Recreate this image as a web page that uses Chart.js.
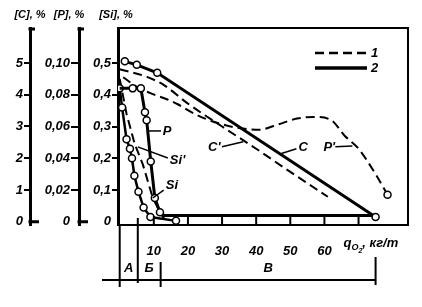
<!DOCTYPE html>
<html>
<head>
<meta charset="utf-8">
<script src="https://cdn.jsdelivr.net/npm/chart.js@4.4.1/dist/chart.umd.min.js"></script>
<style>
  html, body { margin: 0; padding: 0; background: #fff; }
  #wrap { width: 422px; height: 307px; }
</style>
</head>
<body>
<div id="wrap"><canvas id="chart" width="422" height="307"></canvas></div>
<script>
// --------------------
// Data
// --------------------
// x = oxygen consumption q_O2, kg/t

// [C], %  curve 2 (solid) and curve 1 (dashed)
const cQ = [1.5, 5, 11, 75];
const cVal = [5.05, 4.94, 4.69, 0.15];
const cDashQ = [0, 8, 13, 20, 30, 40, 50, 61];
const cDashVal = [4.8, 4.56, 4.3, 3.72, 3.0, 2.3, 1.57, 0.79];

// [P], %
const pQ = [0, 3.8, 6.2, 7.4, 7.9, 9.1, 10.3, 11.8, 13, 75];
const pVal = [0.084, 0.084, 0.084, 0.069, 0.064, 0.038, 0.015, 0.006, 0.004, 0.004];
const pDashQ = [1, 5, 9, 14, 17, 21, 25, 29, 35, 41, 46, 52, 57, 62, 66, 70, 75, 78.5];
const pDashVal = [0.091, 0.085, 0.081, 0.077, 0.074, 0.069, 0.065, 0.062, 0.059, 0.058,
                  0.061, 0.065, 0.066, 0.064, 0.054, 0.046, 0.030, 0.017];

// [Si], %
const siQ = [0, 0.7, 2, 3, 3.6, 4.3, 5.5, 7, 9, 16.5];
const siVal = [0.42, 0.36, 0.26, 0.23, 0.2, 0.145, 0.095, 0.045, 0.015, 0.003];
const siDashQ = [0, 2, 4.4, 6.8, 9.7, 11.8, 13];
const siDashVal = [0.45, 0.34, 0.245, 0.18, 0.075, 0.03, 0.01];

// ticks
const xTicks = [10, 20, 30, 40, 50, 60, 70];
const cTicks = [0, 1, 2, 3, 4, 5];
const pTicks = [0, 0.02, 0.04, 0.06, 0.08, 0.10];
const siTicks = [0, 0.1, 0.2, 0.3, 0.4, 0.5];

// blowing periods under the axis
const periodEdges = [0, 5.3, 12, 75];
const periodNames = ['А', 'Б', 'В'];

// curve names (q, value on the [Si] scale) with leader lines
const curveNames = ['P', "Si'", 'Si', "C'", 'C', "P'"];
const namePos = [[12.6, 0.286], [14.7, 0.192], [13.5, 0.116], [25.9, 0.233], [52.4, 0.233], [59.7, 0.233]];
const leaderFrom = [[8.5, 0.286], [5.3, 0.236], [9.7, 0.075], [30, 0.236], [47.4, 0.215], [63.2, 0.236]];
const leaderTo = [[12.1, 0.286], [14.1, 0.201], [12.9, 0.1], [36.2, 0.252], [51.8, 0.23], [68.2, 0.239]];

const legendNames = ['1', '2'];

// --------------------
// Helpers
// --------------------
const FONT = 'bold italic 13px "Liberation Sans"';

function pts(qs, vs) {
  return qs.map((q, i) => ({ x: q, y: vs[i] }));
}

function marks(n, idx) {
  const r = new Array(n).fill(0);
  (idx === 'all' ? r.map((_, i) => i) : idx).forEach(i => { r[i] = 3.5; });
  return r;
}

function fixedTicks(list) {
  return scale => { scale.ticks = list.map(v => ({ value: v })); };
}

function commaFmt(digits) {
  return v => (v === 0 ? '0' : Number(v).toFixed(digits).replace('.', ','));
}

function line(opts) {
  return Object.assign({
    borderColor: '#000',
    pointBackgroundColor: '#fff',
    pointBorderColor: '#000',
    pointBorderWidth: 1.5,
    fill: false,
    tension: 0
  }, opts);
}

function yAxis(weight, min, max, list, fmt, width, tickLen, zeroTick) {
  return {
    type: 'linear',
    position: 'left',
    weight,
    min,
    max,
    afterBuildTicks: fixedTicks(list),
    afterFit: s => { s.width = width; },
    grid: {
      drawOnChartArea: false,
      drawTicks: true,
      tickLength: tickLen,
      lineWidth: 2,
      color: c => (!zeroTick && c.tick && c.tick.value === 0 ? 'rgba(0,0,0,0)' : '#000')
    },
    border: { color: '#000', width: 3 },
    ticks: { color: '#000', padding: 1, callback: fmt, autoSkip: false }
  };
}

// --------------------
// Decorations: frame, inner ticks, titles, legend, names, periods
// --------------------
const decorPlugin = {
  id: 'decor',
  afterDraw(chart) {
    const { ctx, chartArea: a, scales } = chart;
    const x = scales.x, y = scales.y;
    const px = q => x.getPixelForValue(q);
    const py = v => y.getPixelForValue(v);

    ctx.save();
    ctx.strokeStyle = '#000';
    ctx.fillStyle = '#000';
    ctx.font = FONT;

    // frame top + right
    ctx.lineWidth = 2;
    ctx.beginPath();
    ctx.moveTo(a.left, a.top);
    ctx.lineTo(a.right, a.top);
    ctx.lineTo(a.right, a.bottom);
    ctx.stroke();

    // inner x ticks
    xTicks.forEach(q => {
      ctx.beginPath();
      ctx.moveTo(px(q), a.bottom);
      ctx.lineTo(px(q), a.bottom - 9);
      ctx.stroke();
    });

    // feet and top serifs of the [C] and [P] axes
    ['yC', 'yP'].forEach(id => {
      const s = scales[id];
      const y0 = s.getPixelForValue(0);
      ctx.lineWidth = 3;
      ctx.beginPath();
      ctx.moveTo(s.right - 1.5, y0);
      ctx.lineTo(s.right + 9, y0);
      ctx.moveTo(s.right - 1.5, a.top + 1);
      ctx.lineTo(s.right + 5, a.top + 1);
      ctx.stroke();
    });

    // axis titles above
    ctx.font = 'bold italic 11px "Liberation Sans"';
    ctx.textBaseline = 'middle';
    ctx.textAlign = 'center';
    ctx.fillText('[C], %', scales.yC.right, 15);
    ctx.fillText('[P], %', scales.yP.right - 10, 15);
    ctx.fillText('[Si], %', y.right - 2, 15);

    // x axis title q_O2, кг/т
    ctx.font = FONT;
    ctx.textAlign = 'left';
    let tx = px(70) - 15;
    const ty = a.bottom + 18;
    ctx.fillText('q', tx, ty);
    tx += ctx.measureText('q').width;
    ctx.font = 'bold italic 9px "Liberation Sans"';
    ctx.fillText('O', tx, ty + 5);
    tx += ctx.measureText('O').width;
    ctx.font = 'bold italic 7px "Liberation Sans"';
    ctx.fillText('2', tx, ty + 8);
    tx += ctx.measureText('2').width;
    ctx.font = FONT;
    ctx.fillText(', кг/т', tx, ty);

    // legend
    const lx0 = a.right - 93, lx1 = a.right - 41;
    [[9, 5], []].forEach((dash, i) => {
      const ly = a.top + 25 + i * 15;
      ctx.lineWidth = i === 0 ? 2.5 : 3.5;
      ctx.setLineDash(dash);
      ctx.beginPath();
      ctx.moveTo(lx0, ly);
      ctx.lineTo(lx1, ly);
      ctx.stroke();
      ctx.setLineDash([]);
      ctx.fillText(legendNames[i], lx1 + 4, ly);
    });

    // curve names with leaders
    ctx.lineWidth = 1.5;
    curveNames.forEach((name, i) => {
      ctx.beginPath();
      ctx.moveTo(px(leaderFrom[i][0]), py(leaderFrom[i][1]));
      ctx.lineTo(px(leaderTo[i][0]), py(leaderTo[i][1]));
      ctx.stroke();
      ctx.fillText(name, px(namePos[i][0]), py(namePos[i][1]));
    });

    // blowing periods
    const bandY = a.bottom + 55;
    ctx.lineWidth = 2;
    ctx.beginPath();
    ctx.moveTo(a.left - 16, bandY);
    ctx.lineTo(px(periodEdges[3]), bandY);
    ctx.stroke();
    const edgeSpan = [[0, 62], [-7, 58], [37, 62], [32, 60]];
    periodEdges.forEach((q, i) => {
      ctx.beginPath();
      ctx.moveTo(px(q), a.bottom + edgeSpan[i][0]);
      ctx.lineTo(px(q), a.bottom + edgeSpan[i][1]);
      ctx.stroke();
    });
    ctx.textAlign = 'center';
    periodNames.forEach((name, i) => {
      const mid = (px(periodEdges[i]) + px(periodEdges[i + 1])) / 2;
      ctx.fillText(name, mid, a.bottom + 43);
    });

    ctx.restore();
  }
};

// --------------------
// Chart
// --------------------
Chart.defaults.font = { family: '"Liberation Sans"', size: 13, style: 'italic', weight: 'bold' };
Chart.defaults.color = '#000';

new Chart(document.getElementById('chart'), {
  type: 'line',
  data: {
    datasets: [
      line({ data: pts(cQ, cVal), yAxisID: 'yC', borderWidth: 3, pointRadius: marks(cQ.length, 'all') }),
      line({ data: pts(cDashQ, cDashVal), yAxisID: 'yC', borderWidth: 2, borderDash: [9, 5],
             cubicInterpolationMode: 'monotone', pointRadius: 0 }),
      line({ data: pts(pQ, pVal), yAxisID: 'yP', borderWidth: 3, pointRadius: marks(pQ.length, [1, 2, 3, 4, 5, 6, 7]) }),
      line({ data: pts(pDashQ, pDashVal), yAxisID: 'yP', borderWidth: 2, borderDash: [9, 5],
             cubicInterpolationMode: 'monotone', pointRadius: marks(pDashQ.length, [pDashQ.length - 1]) }),
      line({ data: pts(siQ, siVal), yAxisID: 'y', borderWidth: 2.5, pointRadius: marks(siQ.length, 'all') }),
      line({ data: pts(siDashQ, siDashVal), yAxisID: 'y', borderWidth: 2, borderDash: [9, 5], pointRadius: 0 })
    ]
  },
  options: {
    responsive: false,
    animation: false,
    devicePixelRatio: 1,
    layout: { padding: { top: 28, right: 14, left: 0, bottom: 0 } },
    plugins: { legend: { display: false }, tooltip: { enabled: false } },
    scales: {
      x: {
        type: 'linear',
        min: -0.5,
        max: 84.5,
        afterBuildTicks: fixedTicks(xTicks),
        afterFit: s => { s.height = 82; },
        grid: { display: false },
        border: { color: '#000', width: 2 },
        ticks: { color: '#000', padding: 11, autoSkip: false, maxRotation: 0,
                 callback: v => (v === 70 ? '' : v) }
      },
      y: yAxis(0, -0.01, 0.61, siTicks, commaFmt(1), 39, 6, false),
      yP: yAxis(1, -0.002, 0.122, pTicks, commaFmt(2), 49, 8, false),
      yC: yAxis(2, -0.1, 6.1, cTicks, v => String(v), 30, 6, false)
    }
  },
  plugins: [decorPlugin]
});
</script>
</body>
</html>
